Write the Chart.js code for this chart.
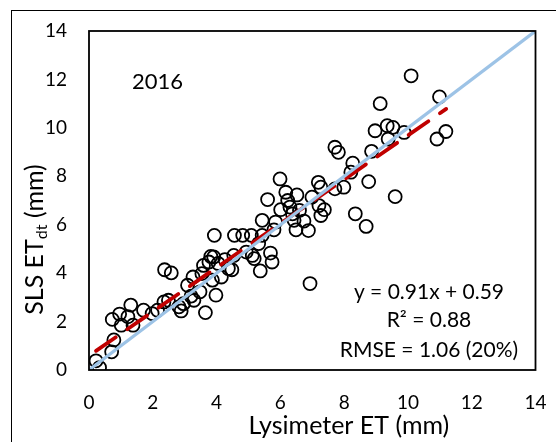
<!DOCTYPE html>
<html>
<head>
<meta charset="utf-8">
<script src="https://cdn.jsdelivr.net/npm/chart.js@4.4.1/dist/chart.umd.min.js"></script>
<style>
  html, body { margin: 0; padding: 0; background: #fff; }
  #wrap { position: relative; width: 556px; height: 442px; overflow: hidden; }
  #frame { position: absolute; left: 11px; top: 10px; width: 560px; height: 460px; border: 1.5px solid #000; box-sizing: border-box; }
  canvas { position: absolute; left: 0; top: 0; }
</style>
</head>
<body>
<div id="wrap">
  <div id="frame"></div>
  <canvas id="etChart" width="556" height="442"></canvas>
</div>
<script>
// Lysimeter ET (mm) vs SLS ET_dt (mm), 2016
const lysimeterET = [
  0.22, 0.33, 0.71, 0.78, 0.73, 0.96, 1.01, 1.22, 1.31, 1.38,
  1.71, 1.98, 2.15, 2.37, 2.58, 2.35, 2.49, 2.82, 2.89, 2.96,
  3.09, 3.26, 3.29, 3.48, 3.54, 3.65, 3.59, 3.76, 3.82, 3.91,
  3.93, 3.87, 3.98, 4.15, 4.26, 4.37, 4.48, 4.54, 4.56, 4.82,
  4.93, 5.09, 5.12, 5.18, 5.32, 5.37, 5.43, 5.43, 5.60, 5.69,
  5.74, 5.80, 5.85, 5.99, 6.01, 6.17, 6.23, 6.30, 6.38, 6.43,
  6.49, 6.52, 6.60, 6.74, 6.88, 6.93, 6.99, 7.19, 7.27, 7.21,
  7.27, 7.38, 7.71, 7.82, 7.71, 7.99, 8.27, 8.21, 8.35, 8.69,
  8.77, 8.86, 8.97, 9.13, 9.35, 9.38, 9.53, 9.60, 9.88, 10.10,
  10.91, 10.99, 11.19, 3.20, 4.05
];
const slsET = [
  0.38, 0.10, 0.75, 1.24, 2.09, 2.31, 1.85, 2.20, 2.68, 1.85,
  2.47, 2.33, 2.47, 4.14, 4.01, 2.81, 2.88, 2.61, 2.44, 2.74,
  3.50, 3.84, 2.88, 3.23, 3.98, 2.37, 4.32, 4.46, 4.69, 4.67,
  5.56, 3.71, 3.09, 3.84, 4.56, 4.19, 4.14, 4.73, 5.56, 5.56,
  4.87, 5.56, 4.73, 4.60, 5.22, 4.09, 5.56, 6.18, 7.04, 4.83,
  4.46, 5.79, 6.11, 7.89, 6.62, 7.34, 7.00, 6.73, 6.45, 6.18,
  5.79, 7.23, 6.59, 6.15, 5.76, 3.57, 7.14, 7.75, 7.55, 6.79,
  6.38, 6.62, 9.20, 8.99, 7.48, 7.55, 8.54, 8.17, 6.45, 5.93,
  7.78, 9.03, 9.88, 11.00, 10.09, 9.54, 10.02, 7.16, 9.81, 12.15,
  9.54, 11.28, 9.85, 3.05, 4.40
];
const oneToOne = [0, 14];
const slope = 0.91;
const intercept = 0.59;
const fitRange = [0.22, 11.2];
const xTicks = [0, 2, 4, 6, 8, 10, 12, 14];
const yTicks = [0, 2, 4, 6, 8, 10, 12, 14];
const statLines = ['y = 0.91x + 0.59', 'R\u00B2 = 0.88', 'RMSE = 1.06 (20%)'];
const yearLabel = '2016';

const FONT = 'Lato, "Open Sans", sans-serif';

const points = lysimeterET.map((x, i) => ({ x: x, y: slsET[i] }));
const lineOneToOne = oneToOne.map(v => ({ x: v, y: v }));
const lineFit = fitRange.map(x => ({ x: x, y: slope * x + intercept }));

// draws the plot box, the annotations and the axis titles
const decorations = {
  id: 'decorations',
  afterDatasetsDraw(chart) {
    const ctx = chart.ctx;
    const a = chart.chartArea;
    const xs = chart.scales.x;
    const ys = chart.scales.y;
    ctx.save();
    ctx.strokeStyle = '#000';
    ctx.lineWidth = 1.8;
    ctx.strokeRect(a.left, a.top, a.right - a.left, a.bottom - a.top);

    ctx.fillStyle = '#000';
    ctx.textAlign = 'center';
    ctx.textBaseline = 'middle';
    ctx.font = '22px ' + FONT;
    ctx.fillText(yearLabel, xs.getPixelForValue(2.15), ys.getPixelForValue(11.9));

    ctx.font = '21px ' + FONT;
    const statY = [3.22, 2.07, 0.83];
    statLines.forEach((t, i) => {
      ctx.fillText(t, xs.getPixelForValue(10.66), ys.getPixelForValue(statY[i]));
    });

    // x axis title
    ctx.font = '25px ' + FONT;
    ctx.fillText('Lysimeter ET (mm)', xs.getPixelForValue(8.15), a.bottom + 56);

    // y axis title with subscript
    ctx.translate(35, (a.top + a.bottom) / 2 + 39);
    ctx.rotate(-Math.PI / 2);
    ctx.textAlign = 'left';
    const part1 = 'SLS ET';
    const sub = 'dt';
    const part2 = ' (mm)';
    ctx.font = '25px ' + FONT;
    const w1 = ctx.measureText(part1).width;
    const w3 = ctx.measureText(part2).width;
    ctx.font = '16px ' + FONT;
    const w2 = ctx.measureText(sub).width;
    const total = w1 + w2 + w3;
    let x0 = -total / 2;
    ctx.font = '25px ' + FONT;
    ctx.fillText(part1, x0, 0);
    ctx.font = '16px ' + FONT;
    ctx.fillText(sub, x0 + w1, 7);
    ctx.font = '25px ' + FONT;
    ctx.fillText(part2, x0 + w1 + w2, 0);
    ctx.restore();
  }
};

new Chart(document.getElementById('etChart').getContext('2d'), {
  type: 'scatter',
  data: {
    datasets: [
      {
        label: 'Observations',
        data: points,
        pointStyle: 'circle',
        pointRadius: 6.5,
        pointBorderWidth: 1.8,
        pointBorderColor: '#000',
        pointBackgroundColor: 'rgba(0,0,0,0)',
        order: 3
      },
      {
        label: '1:1',
        type: 'line',
        data: lineOneToOne,
        borderColor: '#9DC3E6',
        borderWidth: 3.2,
        pointRadius: 0,
        fill: false,
        order: 1
      },
      {
        label: 'Fit',
        type: 'line',
        data: lineFit,
        borderColor: '#C00000',
        borderWidth: 3.8,
        borderDash: [24, 14],
        borderCapStyle: 'round',
        pointRadius: 0,
        fill: false,
        order: 2
      }
    ]
  },
  options: {
    responsive: false,
    animation: false,
    layout: { padding: { top: 31, right: 20.5, left: 0, bottom: 0 } },
    plugins: {
      legend: { display: false },
      tooltip: { enabled: false }
    },
    scales: {
      x: {
        type: 'linear',
        min: 0,
        max: 14,
        afterBuildTicks: s => { s.ticks = xTicks.map(v => ({ value: v })); },
        grid: { display: false, drawTicks: false },
        border: { display: false },
        ticks: { color: '#000', padding: 21, font: { family: FONT, size: 19 } },
        afterFit: s => { s.height = 72; s.paddingLeft = 0; s.paddingRight = 0; }
      },
      y: {
        type: 'linear',
        min: 0,
        max: 14,
        afterBuildTicks: s => { s.ticks = yTicks.map(v => ({ value: v })); },
        grid: { display: false, drawTicks: false },
        border: { display: false },
        ticks: { color: '#000', padding: 22, font: { family: FONT, size: 19 } },
        afterFit: s => { s.width = 89; s.paddingTop = 0; s.paddingBottom = 0; }
      }
    }
  },
  plugins: [decorations]
});
</script>
</body>
</html>
